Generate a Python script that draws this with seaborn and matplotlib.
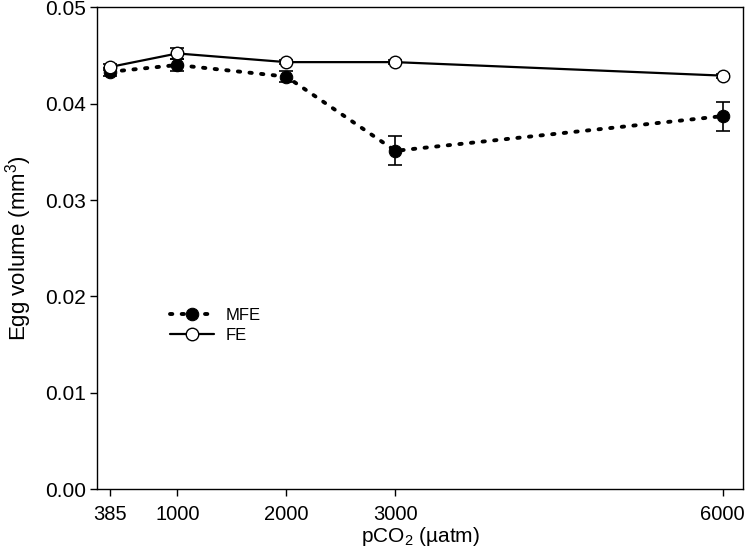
import pandas as pd
import matplotlib
import matplotlib.pyplot as plt
import seaborn as sns

matplotlib.use('Agg')

# Data
pco2 = [385, 1000, 2000, 3000, 6000]
mfe_volume = [0.0433, 0.0440, 0.0428, 0.0351, 0.0387]
mfe_err = [0.0004, 0.0006, 0.0006, 0.0015, 0.0015]
fe_volume = [0.0438, 0.0452, 0.0443, 0.0443, 0.0429]
fe_err = [0.0003, 0.0006, 0.0002, 0.0002, 0.0002]
x_ticks = [385, 1000, 2000, 3000, 6000]
y_ticks = [0.00, 0.01, 0.02, 0.03, 0.04, 0.05]

sns.set_style('ticks')
plt.rcParams['font.family'] = ['Liberation Sans', 'DejaVu Sans']
plt.rcParams['mathtext.default'] = 'regular'
for key in ['text.color', 'axes.labelcolor', 'xtick.color', 'ytick.color']:
    plt.rcParams[key] = 'black'

df = pd.DataFrame({
    'pCO2': pco2 * 2,
    'Volume': mfe_volume + fe_volume,
    'Group': ['MFE'] * len(pco2) + ['FE'] * len(pco2),
})

fig = plt.figure(figsize=(7.47, 5.51), dpi=100)
ax = fig.add_axes([0.130, 0.112, 0.865, 0.875])

# error bars first so the markers sit on top
ax.errorbar(pco2, mfe_volume, yerr=mfe_err, fmt='none', ecolor='black',
            elinewidth=1.2, capsize=5, capthick=1.2, zorder=2)
ax.errorbar(pco2, fe_volume, yerr=fe_err, fmt='none', ecolor='black',
            elinewidth=1.2, capsize=5, capthick=1.2, zorder=2)

sns.lineplot(data=df[df['Group'] == 'MFE'], x='pCO2', y='Volume', ax=ax,
             color='black', linestyle=(0, (0.6, 2.4)), linewidth=2.8,
             dash_capstyle='round', marker='o', markersize=9,
             markerfacecolor='black', markeredgecolor='black',
             label='MFE', zorder=3)
sns.lineplot(data=df[df['Group'] == 'FE'], x='pCO2', y='Volume', ax=ax,
             color='black', linestyle='-', linewidth=1.6,
             marker='o', markersize=9, markerfacecolor='white',
             markeredgecolor='black', markeredgewidth=1.0,
             label='FE', zorder=4)

ax.set_xlim(265, 6190)
ax.set_ylim(0, 0.05)
ax.set_xticks(x_ticks)
ax.set_xticklabels([str(v) for v in x_ticks])
ax.set_yticks(y_ticks)
ax.set_yticklabels([f'{v:.2f}' for v in y_ticks])
ax.tick_params(axis='y', direction='out', length=5, width=1, labelsize=15, pad=3)
ax.tick_params(axis='x', direction='out', length=5, width=1, labelsize=14.5, pad=6)

for side in ['top', 'right', 'bottom', 'left']:
    ax.spines[side].set_visible(True)
    ax.spines[side].set_linewidth(1.0)
    ax.spines[side].set_color('black')

ax.set_xlabel('pCO$_2$ (µatm)', fontsize=15)
ax.set_ylabel('Egg volume (mm$^3$)', fontsize=16)
ax.xaxis.set_label_coords(0.5, -0.074)
ax.yaxis.set_label_coords(-0.097, 0.5)
ax.xaxis.label.set_va('top')

ax.legend(loc='upper left', bbox_to_anchor=(0.09, 0.407), frameon=False,
          fontsize=12, handlelength=2.6, handletextpad=0.7, labelspacing=0.3)

plt.savefig('out.png', dpi=100)
